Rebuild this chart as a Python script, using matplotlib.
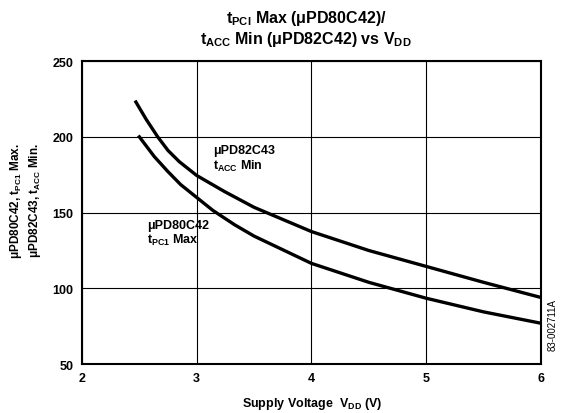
import matplotlib
matplotlib.use('Agg')
import matplotlib.pyplot as plt

plt.rcParams['font.family'] = ['Liberation Sans', 'DejaVu Sans']
plt.rcParams['mathtext.fontset'] = 'custom'
plt.rcParams['mathtext.rm'] = 'Liberation Sans:bold'
plt.rcParams['mathtext.it'] = 'Liberation Sans:bold'
plt.rcParams['mathtext.bf'] = 'Liberation Sans:bold'

# values
vdd_82c43 = [2.47, 2.56, 2.66, 2.75, 2.85, 3.0, 3.24, 3.5, 4.0, 4.5, 5.0, 5.5, 6.0]
tacc_82c43 = [223, 211.5, 200, 191, 183.5, 174.5, 164, 153.5, 137.5, 125, 114.5, 104, 94]
vdd_80c42 = [2.5, 2.63, 2.75, 2.86, 3.0, 3.14, 3.33, 3.5, 4.0, 4.5, 5.0, 5.5, 6.0]
tpc_80c42 = [200, 187, 177, 168.5, 160, 151.5, 142, 134.5, 116.5, 104, 93.5, 84.5, 77]
xticks = [2, 3, 4, 5, 6]
yticks = [50, 100, 150, 200, 250]

fig = plt.figure(figsize=(5.67, 4.14), dpi=100)
ax = fig.add_axes([0.1446, 0.118, 0.8094, 0.732])

ax.plot(vdd_82c43, tacc_82c43, color='black', lw=2.4, solid_joinstyle='round')
ax.plot(vdd_80c42, tpc_80c42, color='black', lw=2.4, solid_joinstyle='round')

ax.set_xlim(2, 6)
ax.set_ylim(50, 250)
ax.set_xticks(xticks)
ax.set_yticks(yticks)
ax.set_xticklabels([str(t) for t in xticks], fontweight='bold', fontsize=9)
ax.set_yticklabels([str(t) for t in yticks], fontweight='bold', fontsize=9)
ax.tick_params(length=0, pad=6)
ax.grid(True, color='black', lw=0.8)
for s in ax.spines.values():
    s.set_linewidth(1.5)

ax.text(3.14, 195, 'μPD82C43\nt$_\\mathrm{ACC}$ Min', fontsize=9, fontweight='bold',
        va='top', ha='left', linespacing=1.1)
ax.text(2.57, 146, 'μPD80C42\nt$_\\mathrm{PC1}$ Max', fontsize=9, fontweight='bold',
        va='top', ha='left', linespacing=1.1)

fig.text(0.54, 0.955, 't$_\\mathrm{PCl}$ Max (μPD80C42)/', ha='center', va='center',
         fontsize=11.5, fontweight='bold')
fig.text(0.54, 0.905, 't$_\\mathrm{ACC}$ Min (μPD82C42) vs V$_\\mathrm{DD}$', ha='center',
         va='center', fontsize=11.5, fontweight='bold')

fig.text(0.045, 0.515, 'μPD80C42, t$_\\mathrm{PC1}$ Max.\nμPD82C43, t$_\\mathrm{ACC}$ Min.',
         rotation=90, ha='center', va='center', fontsize=8.5, fontweight='bold',
         linespacing=1.2)
fig.text(0.55, 0.025, 'Supply Voltage  V$_\\mathrm{DD}$ (V)', ha='center', va='center',
         fontsize=9, fontweight='bold')
fig.text(0.975, 0.215, '83-002711A', rotation=90, ha='center', va='center', fontsize=7)

fig.savefig('out.png', dpi=100)
